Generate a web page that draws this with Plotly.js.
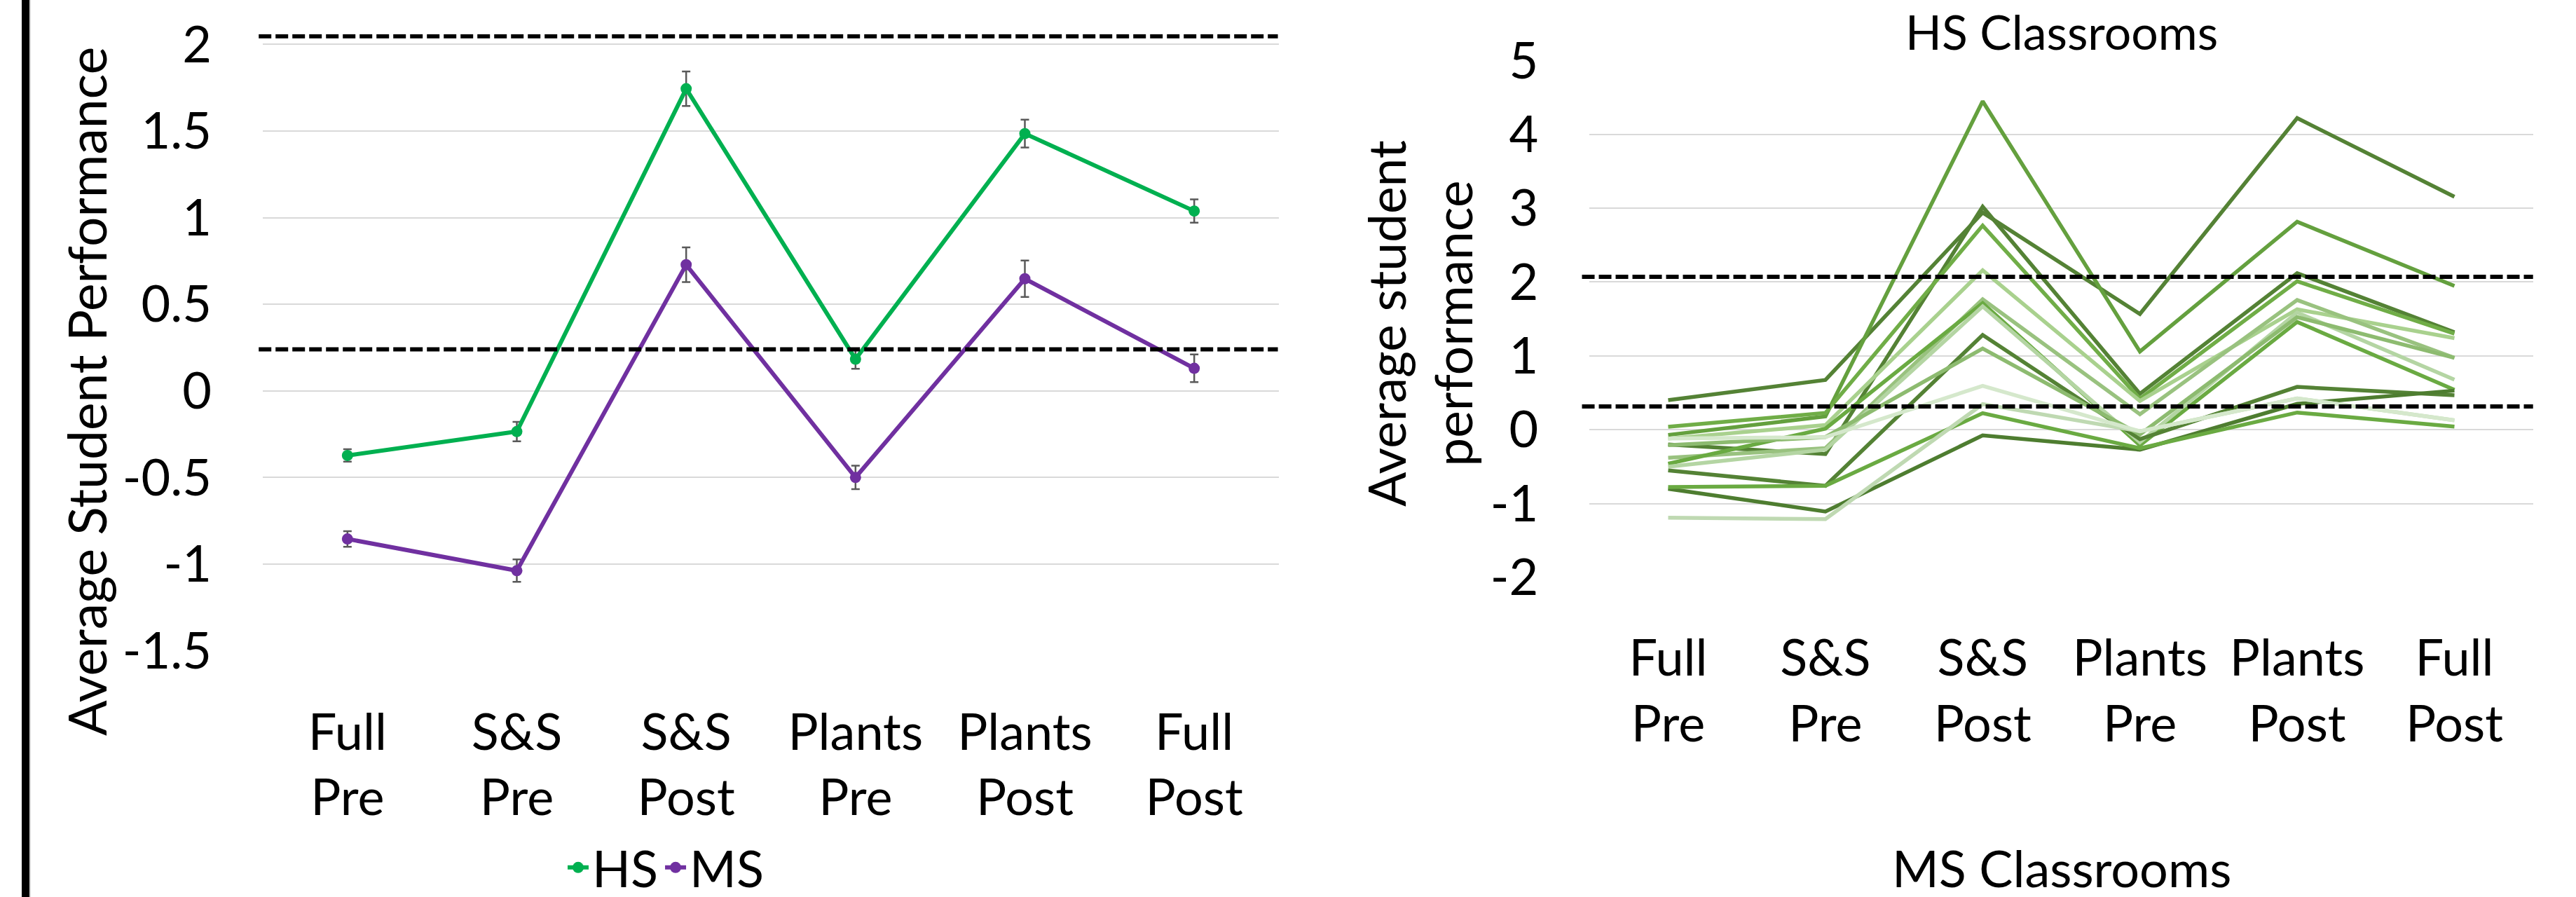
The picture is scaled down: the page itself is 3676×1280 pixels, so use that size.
<!DOCTYPE html>
<html>
<head>
<meta charset="utf-8">
<script src="https://cdn.plot.ly/plotly-3.0.1.min.js"></script>
<style>html,body{margin:0;padding:0;background:#fff;overflow:hidden;}#chart{width:3676px;height:1280px;}</style>
</head>
<body>
<div id="chart"></div>
<script>
// ---------- data ----------
const categories = ["Full<br>Pre", "S&S<br>Pre", "S&S<br>Post", "Plants<br>Pre", "Plants<br>Post", "Full<br>Post"];

const hsMean = [-0.373, -0.235, 1.744, 0.183, 1.485, 1.038];
const hsErr  = [0.036, 0.056, 0.10, 0.056, 0.08, 0.067];
const msMean = [-0.855, -1.038, 0.728, -0.50, 0.647, 0.13];
const msErr  = [0.045, 0.065, 0.10, 0.068, 0.105, 0.08];

const leftThresholds  = [2.047, 0.24];
const rightThresholds = [2.071, 0.316];

const leftTickVals  = [-1.5, -1, -0.5, 0, 0.5, 1, 1.5, 2];
const leftTickText  = ["-1.5", "-1", "-0.5", "0", "0.5", "1", "1.5", "2"];
const rightTickVals = [-2, -1, 0, 1, 2, 3, 4, 5];
const rightTickText = ["-2", "-1", "0", "1", "2", "3", "4", "5"];

const classroom01 = [0.40, 0.674, 2.94, 1.567, 4.22, 3.155];
const classroom02 = [-0.07, 0.18, 4.447, 1.058, 2.816, 1.948];
const classroom03 = [-0.20, -0.33, 3.02, 0.487, 2.12, 1.32];
const classroom04 = [0.04, 0.228, 2.765, 0.42, 2.01, 1.30];
const classroom05 = [-0.12, 0.063, 2.16, 0.39, 1.63, 1.24];
const classroom06 = [-0.38, -0.25, 1.766, 0.21, 1.757, 0.974];
const classroom07 = [-0.46, 0.015, 1.715, -0.21, 1.46, 0.54];
const classroom08 = [-0.50, -0.27, 1.67, -0.17, 1.588, 0.678];
const classroom09 = [-0.55, -0.76, 1.283, -0.127, 0.58, 0.466];
const classroom10 = [-0.21, -0.10, 1.10, -0.064, 1.525, 0.974];
const classroom11 = [-0.80, -1.107, -0.077, -0.27, 0.35, 0.53];
const classroom12 = [-0.775, -0.76, 0.224, -0.25, 0.233, 0.042];
const classroom13 = [-1.19, -1.21, 0.347, -0.02, 0.425, 0.127];
const classroom14 = [-0.12, -0.10, 0.593, -0.02, 0.425, 0.127];

const classrooms = [classroom01, classroom02, classroom03, classroom04, classroom05, classroom06, classroom07,
                    classroom08, classroom09, classroom10, classroom11, classroom12, classroom13, classroom14];

// ---------- styles ----------
const classroomColors = ["#548235", "#64A03E", "#548235", "#70AD47", "#A9D18E", "#99C27F", "#6AAA42",
                         "#B4D5A3", "#548235", "#8DBB70", "#4E7D30", "#6AAA42", "#BFD9B2", "#D5E8CC"];

const FONT = "Lato, 'Open Sans', 'Noto Sans', sans-serif";
const W = 3676, H = 1280;
const px = v => v / W;
const py = v => 1 - v / H;

const traces = [];
traces.push({
  type: "scatter", mode: "lines+markers", name: "HS",
  x: categories, y: hsMean, xaxis: "x", yaxis: "y",
  line: {color: "#00B050", width: 6}, marker: {color: "#00B050", size: 16},
  error_y: {type: "data", array: hsErr, visible: true, color: "#595959", thickness: 2.5, width: 6}
});
traces.push({
  type: "scatter", mode: "lines+markers", name: "MS",
  x: categories, y: msMean, xaxis: "x", yaxis: "y",
  line: {color: "#7030A0", width: 6}, marker: {color: "#7030A0", size: 16},
  error_y: {type: "data", array: msErr, visible: true, color: "#595959", thickness: 2.5, width: 6}
});
classrooms.forEach((vals, i) => {
  traces.push({
    type: "scatter", mode: "lines", name: "Classroom " + (i + 1), showlegend: false,
    x: categories, y: vals, xaxis: "x2", yaxis: "y2",
    line: {color: classroomColors[i], width: 5.5}
  });
});

const tickFont = {family: FONT, size: 72, color: "#000"};

const shapes = [];
leftThresholds.forEach(t => shapes.push({
  type: "line", xref: "x domain", yref: "y", x0: -0.004, x1: 0.999, y0: t, y1: t,
  line: {color: "#000", width: 6, dash: "18px,6px"}
}));
rightThresholds.forEach(t => shapes.push({
  type: "line", xref: "x2 domain", yref: "y2", x0: -0.008, x1: 1.0, y0: t, y1: t,
  line: {color: "#000", width: 6, dash: "18px,6px"}
}));
shapes.push({type: "rect", xref: "paper", yref: "paper", x0: px(31), x1: px(42), y0: 0, y1: 1,
  fillcolor: "#000", line: {width: 0}, layer: "above"});
shapes.push({type: "line", xref: "paper", yref: "paper", x0: px(43), x1: px(43), y0: 0, y1: 1,
  line: {color: "#c8c8c8", width: 1.5}});

const layout = {
  width: W, height: H,
  margin: {l: 0, r: 0, t: 0, b: 0, pad: 0, autoexpand: false},
  paper_bgcolor: "#fff", plot_bgcolor: "#fff",
  font: {family: FONT, color: "#000"},
  showlegend: true,
  legend: {orientation: "h", xref: "container", yref: "container", x: px(950), xanchor: "center",
           y: py(1238), yanchor: "middle",
           font: {family: FONT, size: 72, color: "#000"}, bgcolor: "rgba(0,0,0,0)", itemwidth: 30},
  xaxis: {domain: [px(375), px(1825)], anchor: "y", type: "category", range: [-0.5, 5.5],
          showgrid: false, zeroline: false, showline: false, ticks: "", tickfont: tickFont,
          ticklabelstandoff: 68, automargin: false},
  yaxis: {domain: [1 - 928.5 / H, 1 - 48.5 / H], anchor: "x", range: [-1.5, 2.06],
          tickvals: leftTickVals, ticktext: leftTickText, showgrid: true, gridcolor: "#d9d9d9", gridwidth: 2,
          zeroline: false, showline: false, ticks: "", tickfont: tickFont, ticklabelstandoff: 72, automargin: false},
  xaxis2: {domain: [px(2268.3), px(3614.7)], anchor: "y2", type: "category", range: [-0.5, 5.5],
          showgrid: false, zeroline: false, showline: false, ticks: "", tickfont: tickFont,
          ticklabelstandoff: 67, automargin: false},
  yaxis2: {domain: [1 - 824 / H, 1 - 86.3 / H], anchor: "x2", range: [-2, 5],
          tickvals: rightTickVals, ticktext: rightTickText, showgrid: true, gridcolor: "#d9d9d9", gridwidth: 2,
          zeroline: false, showline: false, ticks: "", tickfont: tickFont, ticklabelstandoff: 72, automargin: false},
  shapes: shapes,
  annotations: [
    {text: "Average Student Performance", xref: "paper", yref: "paper", x: px(123), y: py(559),
     xanchor: "center", yanchor: "middle", textangle: -90, showarrow: false,
     font: {family: FONT, size: 75, color: "#000"}},
    {text: "Average student<br>performance", xref: "paper", yref: "paper", x: px(2025), y: py(462),
     xanchor: "center", yanchor: "middle", textangle: -90, showarrow: false,
     font: {family: FONT, size: 73, color: "#000"}},
    {text: "HS Classrooms", xref: "paper", yref: "paper", x: px(2942), y: py(44),
     xanchor: "center", yanchor: "middle", showarrow: false,
     font: {family: FONT, size: 68, color: "#000"}},
    {text: "MS Classrooms", xref: "paper", yref: "paper", x: px(2942), y: py(1238),
     xanchor: "center", yanchor: "middle", showarrow: false,
     font: {family: FONT, size: 72, color: "#000"}}
  ]
};

Plotly.newPlot("chart", traces, layout, {staticPlot: true, displayModeBar: false});
</script>
</body>
</html>
